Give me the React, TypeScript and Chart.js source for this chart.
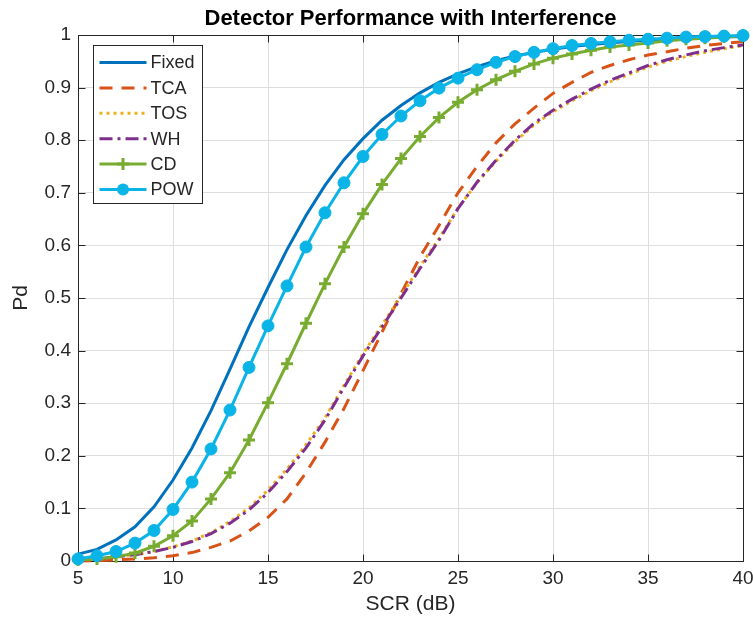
import { useEffect, useRef } from "react";
import { Chart, registerables } from "chart.js";

Chart.register(...registerables);

const snr = [5, 6, 7, 8, 9, 10, 11, 12, 13, 14, 15, 16, 17, 18, 19, 20, 21, 22, 23, 24, 25, 26, 27, 28, 29, 30, 31, 32, 33, 34, 35, 36, 37, 38, 39, 40];

const fixedPd = [0.013, 0.022, 0.040, 0.065, 0.103, 0.154, 0.215, 0.286, 0.365, 0.445, 0.520, 0.592, 0.657, 0.714, 0.763, 0.803, 0.838, 0.866, 0.890, 0.910, 0.926, 0.940, 0.951, 0.960, 0.967, 0.973, 0.978, 0.982, 0.985, 0.988, 0.990, 0.992, 0.994, 0.995, 0.996, 0.997];
const tcaPd = [0.000, 0.001, 0.002, 0.004, 0.006, 0.010, 0.016, 0.026, 0.038, 0.057, 0.083, 0.118, 0.168, 0.226, 0.290, 0.362, 0.435, 0.508, 0.578, 0.638, 0.700, 0.750, 0.795, 0.831, 0.861, 0.889, 0.910, 0.929, 0.942, 0.953, 0.962, 0.968, 0.975, 0.980, 0.984, 0.987];
const tosPd = [0.002, 0.004, 0.008, 0.012, 0.018, 0.027, 0.038, 0.054, 0.075, 0.101, 0.135, 0.175, 0.221, 0.272, 0.334, 0.394, 0.449, 0.504, 0.560, 0.613, 0.671, 0.719, 0.760, 0.797, 0.829, 0.854, 0.875, 0.894, 0.911, 0.925, 0.939, 0.950, 0.959, 0.967, 0.974, 0.980];
const whPd = [0.002, 0.004, 0.008, 0.012, 0.018, 0.026, 0.037, 0.052, 0.072, 0.097, 0.130, 0.170, 0.215, 0.268, 0.330, 0.390, 0.445, 0.500, 0.556, 0.610, 0.670, 0.720, 0.762, 0.800, 0.832, 0.857, 0.878, 0.897, 0.914, 0.928, 0.942, 0.953, 0.962, 0.970, 0.976, 0.981];
const cdPd = [0.002, 0.004, 0.008, 0.015, 0.028, 0.048, 0.076, 0.118, 0.168, 0.230, 0.301, 0.375, 0.452, 0.527, 0.597, 0.660, 0.716, 0.765, 0.807, 0.843, 0.872, 0.896, 0.915, 0.931, 0.945, 0.956, 0.964, 0.971, 0.977, 0.981, 0.985, 0.989, 0.992, 0.994, 0.996, 0.998];
const powPd = [0.004, 0.010, 0.018, 0.034, 0.058, 0.098, 0.150, 0.213, 0.287, 0.368, 0.447, 0.523, 0.597, 0.662, 0.719, 0.769, 0.811, 0.846, 0.875, 0.899, 0.918, 0.934, 0.948, 0.959, 0.967, 0.974, 0.980, 0.984, 0.987, 0.990, 0.992, 0.994, 0.996, 0.997, 0.998, 0.999];

const seriesLabels = ["Fixed", "TCA", "TOS", "WH", "CD", "POW"];
const xTicks = [5, 10, 15, 20, 25, 30, 35, 40];
const yTicks = [0, 0.1, 0.2, 0.3, 0.4, 0.5, 0.6, 0.7, 0.8, 0.9, 1];

const titleText = "Detector Performance with Interference";
const xLabel = "SCR (dB)";
const yLabel = "Pd";

const FONT = "'Liberation Sans', Arial, Helvetica, sans-serif";
const INK = "#262626";

const styles = [
  { color: "#0072BD", dash: [] as number[], marker: "none" },
  { color: "#D95319", dash: [13, 9], marker: "none" },
  { color: "#EDB120", dash: [3, 4], marker: "none" },
  { color: "#7E2F8E", dash: [13, 5, 3, 5], marker: "none" },
  { color: "#77AC30", dash: [] as number[], marker: "cross" },
  { color: "#0AB4E6", dash: [] as number[], marker: "circle" },
];

const allSeries = [fixedPd, tcaPd, tosPd, whPd, cdPd, powPd];

const decor = {
  id: "decor",
  beforeDatasetsDraw(chart: any) {
    const { ctx, chartArea: a, scales } = chart;
    ctx.save();
    ctx.strokeStyle = INK;
    ctx.lineWidth = 1;
    ctx.setLineDash([]);
    const L = Math.round(a.left) + 0.5;
    const R = Math.round(a.right) + 0.5;
    const T = Math.round(a.top) + 0.5;
    const B = Math.round(a.bottom) + 0.5;
    ctx.strokeRect(L, T, R - L, B - T);
    ctx.beginPath();
    for (const v of xTicks) {
      const px = Math.round(scales.x.getPixelForValue(v)) + 0.5;
      ctx.moveTo(px, B);
      ctx.lineTo(px, B - 7);
      ctx.moveTo(px, T);
      ctx.lineTo(px, T + 7);
    }
    for (const v of yTicks) {
      const py = Math.round(scales.y.getPixelForValue(v)) + 0.5;
      ctx.moveTo(L, py);
      ctx.lineTo(L + 7, py);
      ctx.moveTo(R, py);
      ctx.lineTo(R - 7, py);
    }
    ctx.stroke();
    ctx.restore();
  },
  afterDatasetsDraw(chart: any) {
    const { ctx, chartArea: a } = chart;
    ctx.save();
    const bx = Math.round(a.left) + 15.5;
    const by = Math.round(a.top) + 10.5;
    const bw = 109;
    const bh = 158;
    ctx.fillStyle = "#ffffff";
    ctx.fillRect(bx, by, bw, bh);
    ctx.strokeStyle = INK;
    ctx.lineWidth = 1;
    ctx.setLineDash([]);
    ctx.strokeRect(bx, by, bw, bh);
    seriesLabels.forEach((lab, i) => {
      const st = styles[i];
      const y = by + 17 + i * 25.4;
      const x0 = bx + 6;
      const x1 = bx + 53;
      ctx.strokeStyle = st.color;
      ctx.lineWidth = 3;
      ctx.setLineDash(st.dash);
      ctx.beginPath();
      ctx.moveTo(x0, y);
      ctx.lineTo(x1, y);
      ctx.stroke();
      ctx.setLineDash([]);
      const cx = (x0 + x1) / 2;
      if (st.marker === "cross") {
        ctx.beginPath();
        ctx.moveTo(cx - 6, y);
        ctx.lineTo(cx + 6, y);
        ctx.moveTo(cx, y - 6);
        ctx.lineTo(cx, y + 6);
        ctx.stroke();
      } else if (st.marker === "circle") {
        ctx.fillStyle = st.color;
        ctx.beginPath();
        ctx.arc(cx, y, 6, 0, Math.PI * 2);
        ctx.fill();
      }
      ctx.fillStyle = INK;
      ctx.font = `18px ${FONT}`;
      ctx.textAlign = "left";
      ctx.textBaseline = "middle";
      ctx.fillText(lab, bx + 57, y + 1);
    });
    ctx.restore();
  },
  afterDraw(chart: any) {
    const { ctx, chartArea: a } = chart;
    ctx.save();
    const cx = (a.left + a.right) / 2;
    ctx.fillStyle = "#000000";
    ctx.font = `bold 22px ${FONT}`;
    ctx.textAlign = "center";
    ctx.textBaseline = "alphabetic";
    ctx.fillText(titleText, cx, 25);
    ctx.fillStyle = INK;
    ctx.font = `21px ${FONT}`;
    ctx.textBaseline = "middle";
    ctx.fillText(xLabel, cx, 604);
    ctx.translate(21, (a.top + a.bottom) / 2);
    ctx.rotate(-Math.PI / 2);
    ctx.fillText(yLabel, 0, 0);
    ctx.restore();
  },
};

export default function App() {
  const ref = useRef<HTMLCanvasElement>(null);
  useEffect(() => {
    const canvas = ref.current;
    if (!canvas) return;
    const datasets = allSeries.map((vals, i) => {
      const st = styles[i];
      return {
        label: seriesLabels[i],
        data: snr.map((x, k) => ({ x, y: vals[k] })),
        borderColor: st.color,
        backgroundColor: st.color,
        borderWidth: 3,
        borderDash: st.dash,
        tension: 0,
        fill: false,
        clip: false as any,
        order: 6 - i,
        pointStyle: st.marker === "cross" ? "cross" : "circle",
        pointRadius: st.marker === "none" ? 0 : 6,
        pointBorderWidth: st.marker === "cross" ? 3 : 1,
        pointBorderColor: st.color,
        pointBackgroundColor: st.color,
        pointHoverRadius: 0,
      };
    });
    const chart = new Chart(canvas, {
      type: "line",
      data: { datasets: datasets as any },
      options: {
        animation: false,
        responsive: false,
        devicePixelRatio: 1,
        events: [],
        layout: { padding: { top: 35, right: 10, left: 0, bottom: 0 } },
        plugins: {
          legend: { display: false },
          title: { display: false },
          tooltip: { enabled: false },
        },
        scales: {
          x: {
            type: "linear",
            min: 5,
            max: 40,
            afterFit: (s: any) => {
              s.height = 56;
              s.paddingLeft = 0;
              s.paddingRight = 0;
            },
            afterBuildTicks: (s: any) => {
              s.ticks = xTicks.map((v) => ({ value: v }));
            },
            border: { display: false },
            grid: { color: "#dedede", lineWidth: 1, drawTicks: false },
            ticks: {
              padding: 6,
              color: INK,
              font: { family: FONT, size: 19 },
              maxRotation: 0,
              callback: (v: any) => String(v),
            },
          },
          y: {
            type: "linear",
            min: 0,
            max: 1,
            afterFit: (s: any) => {
              s.width = 78;
              s.paddingTop = 0;
              s.paddingBottom = 0;
            },
            afterBuildTicks: (s: any) => {
              s.ticks = yTicks.map((v) => ({ value: v }));
            },
            border: { display: false },
            grid: { color: "#dedede", lineWidth: 1, drawTicks: false },
            ticks: {
              padding: 7,
              color: INK,
              font: { family: FONT, size: 19 },
              callback: (v: any) => String(Math.round(Number(v) * 10) / 10),
            },
          },
        },
      },
      plugins: [decor],
    });
    return () => chart.destroy();
  }, []);
  return (
    <div style={{ position: "fixed", left: 0, top: 0, width: 753, height: 617, background: "#ffffff" }}>
      <canvas ref={ref} width={753} height={617} style={{ display: "block", width: 753, height: 617 }} />
    </div>
  );
}
